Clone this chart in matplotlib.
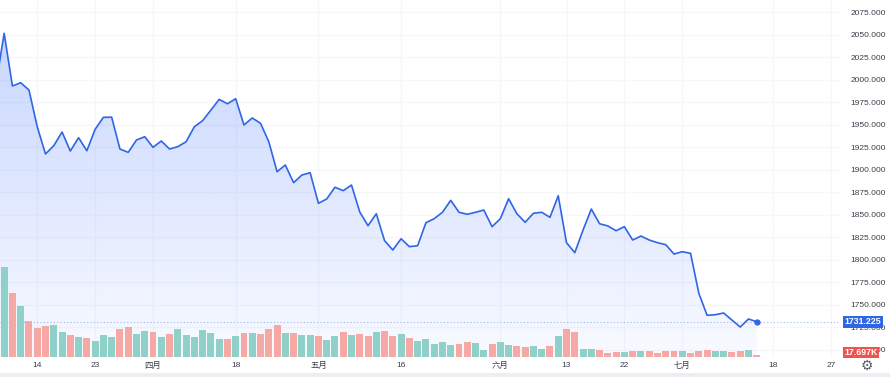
import numpy as np
import matplotlib
matplotlib.use('Agg')
import matplotlib.pyplot as plt
from matplotlib.patches import Polygon, Rectangle

plt.rcParams['font.family'] = ['Liberation Sans', 'Noto Sans CJK SC', 'DejaVu Sans']

# closing price per bar, bar 0 sits just left of the visible range
prices = [1994.4, 2051.7, 1993.1, 1996.8, 1988.7, 1947.9, 1917.6, 1926.8, 1942.0, 1920.9,
          1935.7, 1921.2, 1945.0, 1958.3, 1958.5, 1923.1, 1919.4, 1933.1, 1936.8, 1925.0,
          1932.0, 1923.1, 1925.7, 1931.2, 1947.9, 1954.6, 1966.4, 1978.3, 1973.4, 1979.0,
          1949.8, 1957.6, 1951.7, 1931.2, 1897.9, 1905.3, 1885.7, 1894.2, 1896.8, 1862.8,
          1867.6, 1880.6, 1876.8, 1883.1, 1853.1, 1837.9, 1851.2, 1821.2, 1810.9, 1823.4,
          1814.6, 1815.7, 1841.2, 1845.7, 1852.8, 1866.1, 1852.8, 1850.6, 1852.8, 1855.3,
          1836.8, 1845.7, 1867.9, 1851.2, 1841.7, 1851.7, 1852.8, 1847.2, 1871.2, 1819.0,
          1807.9, 1833.1, 1856.4, 1840.1, 1837.6, 1832.3, 1836.8, 1822.0, 1826.4, 1822.0,
          1819.0, 1816.8, 1806.4, 1809.0, 1807.2, 1762.8, 1738.3, 1739.0, 1740.9, 1733.1,
          1725.3, 1734.2, 1731.225]

# volume in thousands for bars 1..92
volumes_k = [794, 564, 454, 321, 257, 272, 281, 221, 195, 174,
             168, 139, 197, 180, 250, 268, 206, 227, 219, 174,
             206, 248, 192, 174, 236, 210, 157, 162, 186, 210,
             210, 204, 245, 281, 215, 215, 197, 197, 186, 150,
             186, 224, 192, 206, 186, 219, 230, 183, 206, 165,
             144, 162, 118, 130, 104, 112, 135, 127, 59, 118,
             133, 109, 95, 89, 100, 71, 100, 186, 252, 219,
             75, 73, 62, 33, 44, 44, 56, 56, 50, 38,
             50, 50, 56, 33, 56, 65, 50, 50, 42, 53,
             65, 17.697]

tick_bars = [5, 12, 19, 29, 39, 49, 61, 69, 76, 83, 94, 101]
tick_labels = ['14', '23', '四月', '18', '五月', '16', '六月', '13', '22', '七月', '18', '27']
price_ticks = list(range(1700, 2076, 25))
last_volume_label = '17.697K'

BLUE = '#2f66e6'
UP = '#8fd1c8'
DOWN = '#f6a8a5'
TXT = '#3b3f4a'

W, H = 890, 377
fig = plt.figure(figsize=(W / 100, H / 100), dpi=100)
rect = [0, 20 / H, 840 / W, 357 / H]
ax = fig.add_axes(rect)
axv = fig.add_axes(rect)
axv.patch.set_visible(False)

x = np.arange(len(prices))
xmin, xmax = 0.498, 102.07
ymin, ymax = 1692.0, 2088.7

# price pane
ax.set_xlim(xmin, xmax)
ax.set_ylim(ymin, ymax)
ax.grid(True, color='#f6f7f9', lw=1, zorder=0)
ax.set_axisbelow(True)

# gradient under the line
alpha = np.linspace(0.28, 0.03, 256).reshape(-1, 1)
img = np.zeros((256, 1, 4))
img[..., 0] = 41 / 255
img[..., 1] = 98 / 255
img[..., 2] = 1.0
img[..., 3] = alpha
im = ax.imshow(img, extent=[xmin, xmax, ymin, ymax], aspect='auto', origin='upper',
               zorder=1, interpolation='bilinear')
verts = list(zip(x, prices)) + [(x[-1], ymin), (x[0], ymin)]
poly = Polygon(verts, transform=ax.transData, facecolor='none', edgecolor='none')
ax.add_patch(poly)
im.set_clip_path(poly)

ax.plot(x, prices, color=BLUE, lw=1.2, zorder=3, solid_joinstyle='round')
ax.plot(x[-1], prices[-1], 'o', ms=3.5, color=BLUE, zorder=4)
ax.axhline(prices[-1], color=BLUE, lw=0.8, ls=(0, (1, 2)), alpha=0.45, zorder=2)

ax.yaxis.tick_right()
ax.set_yticks(price_ticks, [f'{p:.3f}' for p in price_ticks])
ax.set_xticks(tick_bars, tick_labels)
ax.tick_params(axis='y', length=0, pad=7.5, labelsize=6, labelcolor=TXT)
ax.tick_params(axis='x', length=0, pad=3.5, labelsize=6, labelcolor=TXT)
for s in ax.spines.values():
    s.set_visible(False)

# last price tag (sits on top of the 1725 label, as in the source chart)
ax.text(1.0055, prices[-1], f'{prices[-1]:.3f}', transform=ax.get_yaxis_transform(),
        ha='left', va='center', fontsize=6.3, fontweight='bold', color='white',
        clip_on=False, zorder=10,
        bbox=dict(boxstyle='square,pad=0.18', facecolor=BLUE, edgecolor='none'))

# volume overlay
vx = x[1:]
vcolors = [UP if prices[i] >= prices[i - 1] else DOWN for i in range(1, len(prices))]
axv.bar(vx, volumes_k, width=0.84, color=vcolors, zorder=2)
axv.set_xlim(xmin, xmax)
axv.set_ylim(0, 357 * 8.85)
axv.axis('off')
axv.text(1.0055, 0.0, last_volume_label, transform=axv.transAxes, ha='left', va='bottom',
         fontsize=6.3, fontweight='bold', color='white', clip_on=False, zorder=10,
         bbox=dict(boxstyle='square,pad=0.15', facecolor='#ef5350', edgecolor='none'))

# gear icon and bottom strip
fig.text(867 / W, 1 - 366 / H, '\u2699', family='DejaVu Sans', fontsize=10, color='#555a66',
         ha='center', va='center')
fig.patches.append(Rectangle((0, 0), 1, 4 / H, transform=fig.transFigure,
                             facecolor='#eceef2', edgecolor='none'))

fig.savefig('out.png', dpi=100, facecolor='white')
